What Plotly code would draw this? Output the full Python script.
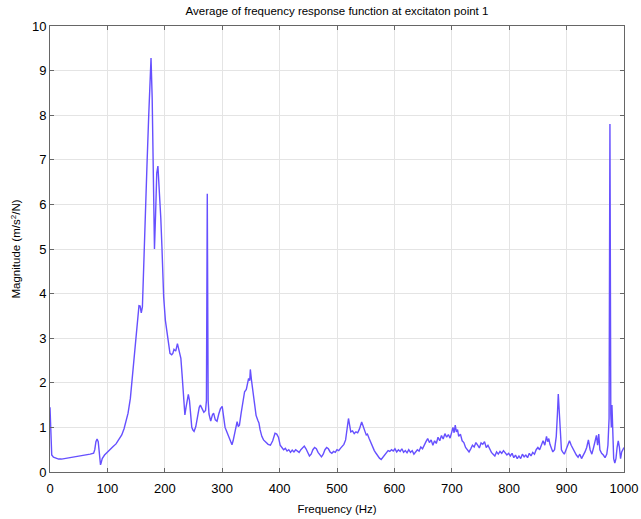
import plotly.graph_objects as go

freq_low = [0, 1.5, 3, 6, 10, 15, 20, 30, 40, 50, 60, 70, 76, 78, 80, 82, 84, 86, 88, 89, 91, 95,
            100, 105, 110, 115, 120, 125, 129, 133, 136, 140, 143, 147, 151, 155, 157, 159, 161, 163,
            166, 169, 172, 174, 176, 178, 180, 182, 184, 186, 188, 191, 193, 195, 198, 201, 203, 206,
            209, 212, 214, 216, 219, 222, 225, 228, 230, 232, 234, 235, 237, 239, 241, 243, 245, 247,
            249, 251, 254, 257, 260, 262, 265, 268, 271, 272.5, 274, 275.5, 277, 280, 283, 285, 288,
            291, 294, 297, 300, 302, 305, 308, 311, 314, 317, 319, 321, 324, 326, 328, 330, 333, 336,
            339, 342, 344, 346, 348, 349, 351, 353, 355, 357, 359, 362, 364, 366, 369, 372, 376, 380,
            384, 388, 392, 395, 398, 401, 404]
mag_low = [1.45, 0.6, 0.38, 0.33, 0.31, 0.29, 0.29, 0.31, 0.33, 0.35, 0.37, 0.4, 0.42, 0.5, 0.68, 0.74,
           0.68, 0.4, 0.16, 0.2, 0.3, 0.38,
           0.45, 0.51, 0.57, 0.63, 0.72, 0.83, 0.97, 1.15, 1.32, 1.65, 2.07, 2.6, 3.18, 3.73, 3.72, 3.57,
           3.7, 4.65, 5.8, 6.9, 8.0, 8.8, 9.28, 8.4, 6.9, 5.0, 5.8, 6.7, 6.86, 6.3, 5.7, 5.05, 3.93, 3.4,
           3.2, 2.9, 2.66, 2.63, 2.66, 2.75, 2.71, 2.88, 2.74, 2.55, 2.2, 1.76, 1.35, 1.28, 1.45, 1.62,
           1.74, 1.6, 1.35, 1.0, 0.94, 0.91, 1.02, 1.24, 1.45, 1.5, 1.43, 1.34, 1.38, 1.6, 6.24, 1.6, 1.3,
           1.14, 1.28, 1.32, 1.17, 1.14, 1.3, 1.42, 1.47, 1.25, 1.0, 0.9, 0.8, 0.68, 0.61, 0.7, 0.84, 1.05,
           1.13, 1.02, 1.05, 1.32, 1.55, 1.8, 1.85, 1.98, 2.1, 2.05, 2.3, 2.06, 1.86, 1.55, 1.45, 1.27,
           1.16, 1.1, 0.95, 0.8, 0.72, 0.67, 0.62, 0.6, 0.7, 0.87, 0.85, 0.78, 0.6, 0.55]

freq_high = [407, 410, 413, 416, 419, 422, 425, 428, 431, 434, 437, 440, 443, 446, 449, 452, 455, 458,
             461, 464, 467, 470, 473, 476, 479, 482, 485, 488, 491, 494, 497, 500, 503, 506, 509, 512,
             515, 518, 520, 522, 524, 527, 530, 533, 536, 539, 541, 543, 545, 547, 549, 551, 553, 556,
             559, 562, 565, 568, 571, 574, 577, 580, 583, 586, 589, 592, 595, 598, 601, 604, 607, 610,
             613, 616, 619, 622, 625, 628, 631, 634, 637, 640, 643, 646, 649, 652, 655, 658, 661, 664,
             667, 670, 673, 676, 679, 682, 685, 688, 691, 694, 697, 700, 702, 704, 706, 708, 710, 712,
             715, 718, 721, 724, 727, 730, 733, 736, 739, 742, 745, 748, 751, 754, 757, 760, 763, 766,
             769, 772, 775, 778, 781, 784, 787, 790, 793, 796, 799, 802, 805, 808, 811, 814, 817, 820,
             823, 826, 829, 832, 835, 838, 841, 844, 847, 850, 853, 856, 859, 862, 865, 867, 869, 871,
             873, 876, 879, 882, 884, 885.5, 887, 889, 891, 893, 896, 899, 902, 905, 908, 911, 914, 917,
             920, 923, 926, 929, 932, 935, 938, 941, 944, 947, 950, 952, 954, 956, 958, 961, 964, 967,
             970, 972, 974, 975.5, 977, 978, 979, 980.5, 982, 984, 986, 988, 990, 992, 994, 996, 998, 1000]
mag_high = [0.5, 0.53, 0.47, 0.5, 0.44, 0.49, 0.45, 0.5, 0.46, 0.44, 0.5, 0.55, 0.58, 0.52, 0.42, 0.36,
            0.4, 0.5, 0.55, 0.52, 0.44, 0.38, 0.34, 0.4, 0.5, 0.55, 0.52, 0.45, 0.42, 0.46, 0.44, 0.5,
            0.48, 0.53, 0.58, 0.62, 0.72, 0.95, 1.2, 1.05, 0.9, 0.92, 0.86, 0.9, 0.88, 0.96, 1.05, 1.12,
            1.05, 0.95, 0.9, 0.83, 0.85, 0.75, 0.66, 0.55, 0.48, 0.42, 0.36, 0.31, 0.28, 0.33, 0.38, 0.44,
            0.48, 0.46, 0.5, 0.47, 0.52, 0.45, 0.5, 0.46, 0.52, 0.44, 0.48, 0.43, 0.5, 0.44, 0.48, 0.4,
            0.46, 0.5, 0.47, 0.56, 0.52, 0.62, 0.68, 0.75, 0.66, 0.72, 0.6, 0.7, 0.64, 0.78, 0.7, 0.82,
            0.74, 0.86, 0.78, 0.84, 0.76, 0.9, 1.0, 0.88, 1.05, 0.9, 0.95, 0.8, 0.85, 0.7, 0.66, 0.55,
            0.5, 0.45, 0.52, 0.6, 0.56, 0.66, 0.6, 0.54, 0.65, 0.62, 0.68, 0.55, 0.6, 0.5, 0.44, 0.4,
            0.36, 0.45, 0.4, 0.46, 0.42, 0.48, 0.44, 0.38, 0.42, 0.36, 0.42, 0.32, 0.38, 0.3, 0.36, 0.3,
            0.4, 0.34, 0.38, 0.32, 0.42, 0.36, 0.44, 0.4, 0.5, 0.55, 0.5, 0.62, 0.7, 0.6, 0.8, 0.68, 0.75,
            0.62, 0.55, 0.45, 0.5, 0.8, 1.3, 1.75, 1.4, 0.9, 0.5, 0.45, 0.4, 0.5, 0.62, 0.7, 0.6, 0.52,
            0.45, 0.38, 0.33, 0.4, 0.3, 0.36, 0.45, 0.55, 0.72, 0.5, 0.4, 0.55, 0.68, 0.82, 0.6, 0.85,
            0.5, 0.42, 0.38, 0.32, 0.4, 0.6, 1.2, 7.8, 1.3, 1.0, 1.5, 0.8, 0.3, 0.2, 0.3, 0.55, 0.7, 0.55,
            0.3, 0.45, 0.5, 0.55]

freq = freq_low + freq_high
mag = mag_low + mag_high

x_ticks = list(range(0, 1001, 100))
y_ticks = list(range(0, 11))

FONT = "Liberation Sans, Arial, Helvetica, sans-serif"

fig = go.Figure()
fig.add_trace(go.Scatter(x=freq, y=mag, mode="lines",
                         line=dict(color="#6650ff", width=1.4), showlegend=False))

axis_common = dict(showline=True, mirror="ticks", linecolor="#666666", linewidth=1,
                   ticks="inside", ticklen=4, tickcolor="#666666",
                   showgrid=True, gridcolor="#e4e4e4", gridwidth=1, zeroline=False,
                   automargin=False,
                   tickfont=dict(size=13, color="black", family=FONT))

fig.update_layout(
    width=641, height=519,
    margin=dict(l=50, r=17, t=26, b=47, autoexpand=False),
    paper_bgcolor="white", plot_bgcolor="white",
    font=dict(family=FONT, color="black"),
    title=dict(text="Average of frequency response function at excitaton point 1",
               x=0.5, xref="paper", y=1 - 11 / 519, yref="container", yanchor="middle",
               font=dict(size=11.5, color="black", family=FONT)),
    xaxis=dict(range=[0, 1000], tickvals=x_ticks, ticklabelstandoff=4,
               title=dict(text="Frequency (Hz)", font=dict(size=11.5), standoff=10),
               **axis_common),
    yaxis=dict(range=[0, 10], tickvals=y_ticks,
               title=dict(text="Magnitude (m/s<sup>2</sup>/N)", font=dict(size=11.5), standoff=8),
               **axis_common),
)

fig.write_html("out.html")
